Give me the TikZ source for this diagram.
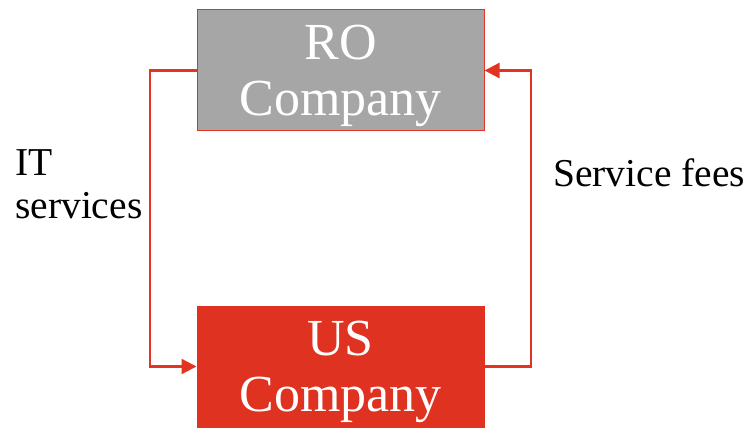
\documentclass[tikz,border=0pt]{standalone}
\usepackage{fontspec}
\setmainfont{Liberation Serif}
\usetikzlibrary{arrows.meta}
\definecolor{boxred}{HTML}{E03220}
\definecolor{boxgray}{HTML}{A6A6A6}
\definecolor{linkred}{HTML}{E33422}
\begin{document}
\begin{tikzpicture}[x=1pt,y=-1pt,
  company/.style={rectangle, minimum width=287pt, minimum height=121pt,
    inner sep=0pt, align=center, text=white, text depth=0pt,
    font=\fontsize{52}{56}\selectfont},
  caption/.style={inner sep=0pt, align=left, text=black,
    font=\fontsize{39.5}{43}\selectfont},
  flow/.style={draw=linkred, line width=2.2pt,
    -{Triangle[length=15pt,width=15pt]}}]
\useasboundingbox (0,0) rectangle (748,428);
\clip (0,0) rectangle (748,428);
% the two companies
\node[company, fill=boxgray, draw=linkred, line width=1pt] (ro) at (340.5,70.5) {RO\\Company};
\node[company, fill=boxred, draw=boxred, line width=1pt] (us) at (340.5,366.5) {US\\Company};
% flows between them
\coordinate (lft) at (150,0);
\coordinate (rgt) at (531,0);
\draw[flow] (ro.west) -- (ro.west -| lft) -- (us.west -| lft) -- (us.west);
\draw[flow] (us.east) -- (us.east -| rgt) -- (ro.east -| rgt) -- (ro.east);
% flow labels
\node[caption, anchor=north west] (it) at (15,149) {IT\\services};
\node[caption, anchor=base west] (fees) at (553,186) {Service fees};
\end{tikzpicture}
\end{document}
